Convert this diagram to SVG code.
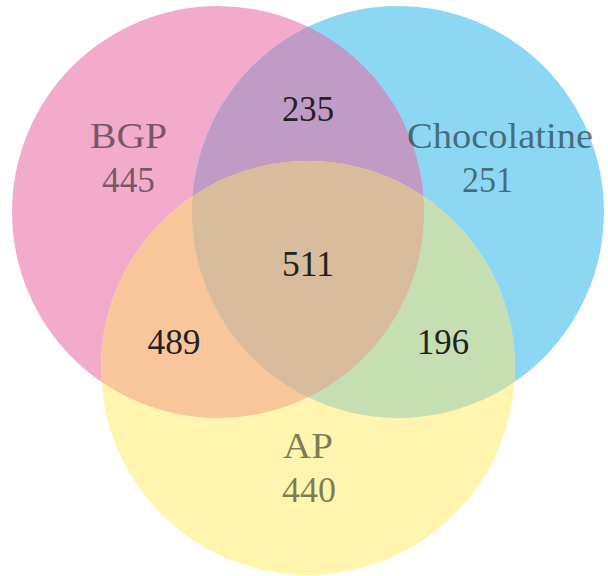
<svg xmlns="http://www.w3.org/2000/svg" width="608" height="576" viewBox="0 0 608 576">
<style>
.lbl{font-size:36px;text-anchor:middle;fill:#000;fill-opacity:0.5}
.num{font-size:36px;text-anchor:middle;fill:#222}
</style>
<defs>
<clipPath id="cPink"><circle cx="218" cy="212" r="206"/></clipPath>
<clipPath id="cBlue"><circle cx="398" cy="212" r="206"/></clipPath>
</defs>
<rect width="608" height="576" fill="#fff"/>
<g id="set-bgp"><circle cx="218" cy="212" r="206" fill="#F2ABCB"/></g>
<g id="set-chocolatine"><circle cx="398" cy="212" r="206" fill="#8CD7F4"/></g>
<g id="set-ap"><circle cx="308" cy="368" r="207" fill="#FFF5AE"/></g>
<g id="overlaps">
<circle cx="398" cy="212" r="206" fill="#BF9BC6" clip-path="url(#cPink)"/>
<circle cx="308" cy="368" r="207" fill="#F9C69C" clip-path="url(#cPink)"/>
<circle cx="308" cy="368" r="207" fill="#C5DFB2" clip-path="url(#cBlue)"/>
<g clip-path="url(#cPink)"><circle cx="308" cy="368" r="207" fill="#D9BC9B" clip-path="url(#cBlue)"/></g>
</g>
<g id="labels" font-family="'Liberation Serif', 'Times New Roman', serif">
<text class="lbl" x="128.5" y="148" textLength="77" lengthAdjust="spacingAndGlyphs">BGP</text>
<text class="lbl" x="128.5" y="192" textLength="53" lengthAdjust="spacingAndGlyphs">445</text>
<text class="lbl" x="500" y="148" textLength="186" lengthAdjust="spacingAndGlyphs">Chocolatine</text>
<text class="lbl" x="487.5" y="192" textLength="51" lengthAdjust="spacingAndGlyphs">251</text>
<text class="lbl" x="308" y="458" textLength="50" lengthAdjust="spacingAndGlyphs">AP</text>
<text class="lbl" x="309" y="502" textLength="54" lengthAdjust="spacingAndGlyphs">440</text>
<text class="num" x="308" y="121" textLength="52" lengthAdjust="spacingAndGlyphs">235</text>
<text class="num" x="308" y="276" textLength="52" lengthAdjust="spacingAndGlyphs">511</text>
<text class="num" x="174" y="354" textLength="53" lengthAdjust="spacingAndGlyphs">489</text>
<text class="num" x="443" y="354" textLength="52" lengthAdjust="spacingAndGlyphs">196</text>
</g>
</svg>
